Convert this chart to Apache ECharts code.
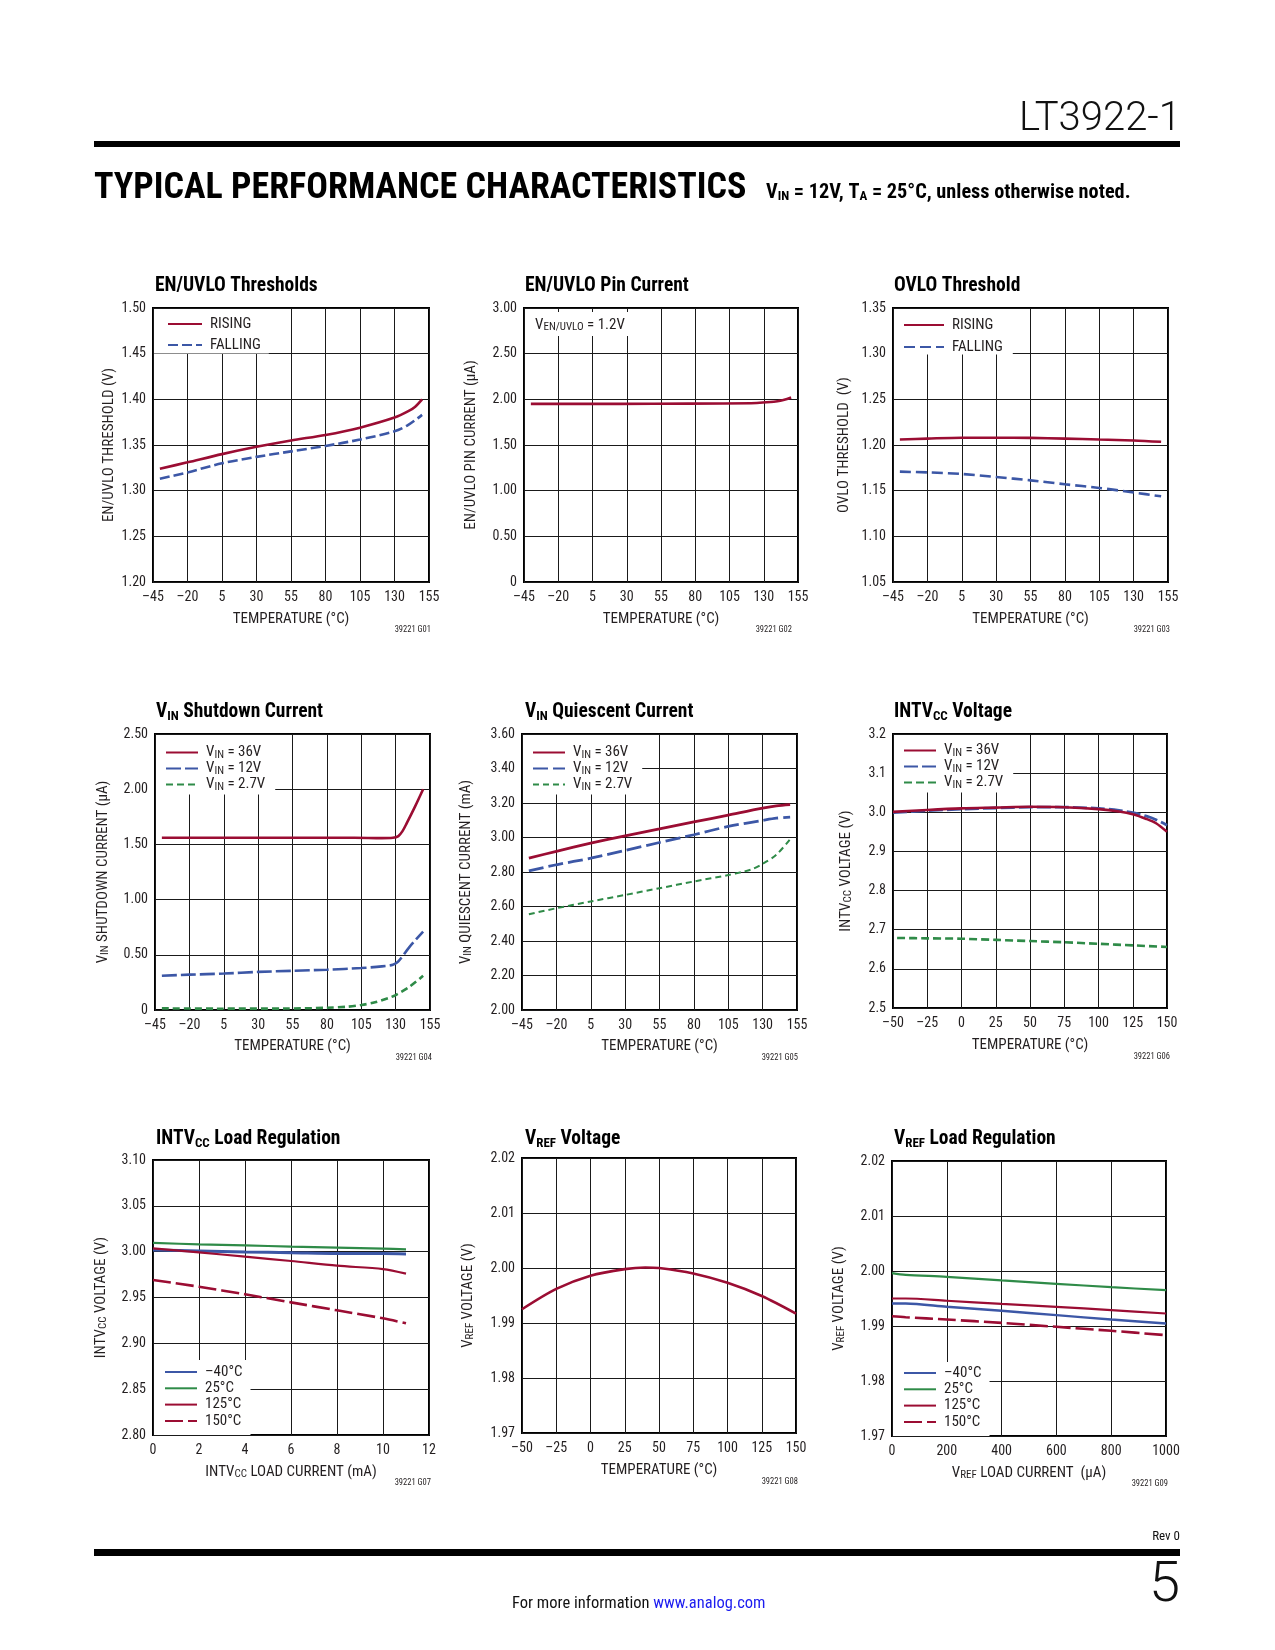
<!DOCTYPE html>
<html>
<head>
<meta charset="utf-8">
<script src="https://cdn.jsdelivr.net/npm/echarts@6/dist/echarts.min.js"></script>
<style>
html,body{margin:0;padding:0;background:#fff;}
#c{width:1275px;height:1650px;}
</style>
</head>
<body>
<div id="c"></div>
<script>
// ---------- DATA ----------
// G01 EN/UVLO Thresholds
const g1RisingT = [-40, -20, 5, 30, 55, 80, 105, 130, 140, 145, 150];
const g1RisingV = [1.324, 1.331, 1.340, 1.348, 1.355, 1.361, 1.369, 1.380, 1.387, 1.392, 1.400];
const g1FallingT = [-40, -20, 5, 30, 55, 80, 105, 130, 140, 150];
const g1FallingV = [1.313, 1.320, 1.330, 1.337, 1.343, 1.349, 1.356, 1.365, 1.372, 1.383];
// G02 EN/UVLO Pin Current
const g2T = [-40, 0, 50, 100, 125, 135, 140, 145, 150];
const g2I = [1.95, 1.95, 1.952, 1.955, 1.96, 1.97, 1.98, 1.995, 2.02];
// G03 OVLO Threshold
const g3RisingT = [-40, -20, 5, 30, 55, 80, 105, 130, 150];
const g3RisingV = [1.206, 1.207, 1.208, 1.208, 1.2078, 1.207, 1.206, 1.205, 1.2035];
const g3FallingT = [-40, -20, 5, 30, 55, 80, 105, 130, 150];
const g3FallingV = [1.1708, 1.170, 1.1683, 1.165, 1.1613, 1.157, 1.153, 1.148, 1.1438];
// G04 VIN Shutdown Current
const g4T36 = [-40, 0, 50, 100, 120, 128, 132, 135, 138, 144, 150];
const g4I36 = [1.56, 1.56, 1.56, 1.56, 1.557, 1.56, 1.575, 1.62, 1.69, 1.84, 2.0];
const g4T12 = [-40, -20, 5, 30, 55, 80, 105, 120, 128, 132, 140, 150];
const g4I12 = [0.31, 0.32, 0.33, 0.345, 0.355, 0.365, 0.38, 0.395, 0.41, 0.44, 0.57, 0.71];
const g4T27 = [-40, 0, 50, 80, 95, 105, 115, 125, 130, 140, 150];
const g4I27 = [0.015, 0.012, 0.013, 0.02, 0.03, 0.045, 0.07, 0.11, 0.135, 0.21, 0.31];
// G05 VIN Quiescent Current
const g5T36 = [-40, -20, 5, 30, 55, 80, 105, 130, 140, 150];
const g5I36 = [2.88, 2.92, 2.967, 3.01, 3.05, 3.09, 3.13, 3.17, 3.183, 3.19];
const g5T12 = [-40, -20, 5, 30, 55, 80, 105, 130, 140, 150];
const g5I12 = [2.807, 2.842, 2.88, 2.925, 2.971, 3.016, 3.064, 3.099, 3.112, 3.118];
const g5T27 = [-40, -20, 5, 30, 55, 80, 105, 115, 122, 130, 140, 150];
const g5I27 = [2.555, 2.59, 2.629, 2.667, 2.706, 2.745, 2.782, 2.80, 2.815, 2.847, 2.90, 2.99];
// G06 INTVCC Voltage
const g6T36 = [-50, -25, 0, 25, 50, 75, 100, 115, 125, 135, 142, 150];
const g6V36 = [3.001, 3.006, 3.01, 3.012, 3.014, 3.013, 3.008, 3.002, 2.995, 2.983, 2.972, 2.95];
const g6T12 = [-50, -25, 0, 25, 50, 75, 100, 115, 125, 135, 142, 150];
const g6V12 = [2.999, 3.004, 3.008, 3.011, 3.013, 3.013, 3.01, 3.005, 2.999, 2.99, 2.981, 2.967];
const g6T27 = [-47, -25, 0, 25, 50, 75, 100, 125, 150];
const g6V27 = [2.679, 2.678, 2.677, 2.674, 2.671, 2.668, 2.664, 2.66, 2.656];
// G07 INTVCC Load Regulation
const g7Load = [0, 2, 4, 6, 8, 10, 11];
const g7Vm40 = [3.0018, 3.0007, 2.9996, 2.9989, 2.998, 2.998, 2.9975];
const g7V25 = [3.0095, 3.008, 3.0069, 3.0055, 3.0044, 3.0033, 3.0025];
const g7V125 = [3.0036, 2.9993, 2.9945, 2.9898, 2.9847, 2.981, 2.976];
const g7V150 = [2.969, 2.9618, 2.9535, 2.9447, 2.936, 2.9273, 2.9218];
// G08 VREF Voltage
const g8T = [-50, -25, 0, 25, 40, 50, 75, 100, 125, 150];
const g8V = [1.9925, 1.9962, 1.9986, 1.9998, 2.0001, 2.0, 1.999, 1.9973, 1.9949, 1.9917];
// G09 VREF Load Regulation
const g9Load = [0, 50, 200, 400, 600, 800, 1000];
const g9Vm40 = [1.9941, 1.9941, 1.9935, 1.99276, 1.99197, 1.99118, 1.99045];
const g9V25 = [1.99961, 1.9993, 1.99894, 1.99828, 1.99767, 1.99706, 1.99652];
const g9V125 = [1.995, 1.995, 1.99459, 1.99403, 1.99349, 1.99288, 1.99227];
const g9V150 = [1.99178, 1.9916, 1.99118, 1.99057, 1.98985, 1.98913, 1.98833];

// axis ranges / ticks
const tempAxisA = {min: -45, max: 155, interval: 25};
const tempAxisB = {min: -50, max: 150, interval: 25};

// ---------- STYLE ----------
const FONT = "'Roboto Condensed','Liberation Sans Narrow','Liberation Sans',sans-serif";
const RED = '#9b0d33', BLUE = '#3c57a6', GREEN = '#2f8b48', TXT = '#231f20';
const SUB = {fontFamily: FONT, fontSize: 11, color: TXT, verticalAlign: 'bottom', padding: [5, 0, 0, 0]};
const SUBT = {fontFamily: FONT, fontSize: 13, fontWeight: 'bold', color: '#000', verticalAlign: 'bottom', padding: [8, 0, 0, 0]};

const grids = [
  {left: 153, top: 308, width: 276, height: 274},
  {left: 524, top: 308, width: 274, height: 274},
  {left: 893, top: 308, width: 275, height: 274},
  {left: 155, top: 734, width: 275, height: 276},
  {left: 522, top: 734, width: 275, height: 276},
  {left: 893, top: 734, width: 274, height: 274},
  {left: 153, top: 1160, width: 276, height: 275},
  {left: 522, top: 1158, width: 274, height: 275},
  {left: 892, top: 1161, width: 274, height: 275}
].map(g => Object.assign({show: true, borderColor: '#000', borderWidth: 2, backgroundColor: '#fff', containLabel: false}, g));

const dash = s => String(s).replace('-', '\u2013');

function xAx(gi, rng, name, gap) {
  return {
    type: 'value', gridIndex: gi, min: rng.min, max: rng.max, interval: rng.interval,
    name: name, nameLocation: 'middle', nameGap: gap || 29,
    nameTextStyle: {fontFamily: FONT, fontSize: 15, color: TXT, rich: {s: SUB}},
    axisLine: {show: false}, axisTick: {show: false},
    axisLabel: {margin: 8, fontFamily: FONT, fontSize: 14, color: TXT, formatter: v => dash(v)},
    splitLine: {show: true, lineStyle: {color: '#1a1a1a', width: 1}}
  };
}
function yAx(gi, min, max, interval, dec, name, gap) {
  return {
    type: 'value', gridIndex: gi, min: min, max: max, interval: interval,
    name: name, nameLocation: 'middle', nameGap: gap, nameRotate: 90,
    nameTextStyle: {fontFamily: FONT, fontSize: 15, color: TXT, rich: {s: SUB}},
    axisLine: {show: false}, axisTick: {show: false},
    axisLabel: {margin: 7, fontFamily: FONT, fontSize: 14, color: TXT,
      formatter: v => (Math.abs(v) < 1e-9 ? '0' : v.toFixed(dec))},
    splitLine: {show: true, lineStyle: {color: '#1a1a1a', width: 1}}
  };
}

const labels = {};
function line(id, label, gi, xs, ys, color, width, type) {
  labels[id] = label;
  return {
    name: id, type: 'line', xAxisIndex: gi, yAxisIndex: gi,
    data: xs.map((x, i) => [x, ys[i]]),
    symbol: 'none', smooth: 0.3,
    lineStyle: {color: color, width: width, type: type || 'solid', cap: 'butt'},
    itemStyle: {color: color}, z: 3, silent: true
  };
}

const series = [
  line('g1r', 'RISING', 0, g1RisingT, g1RisingV, RED, 2.6),
  line('g1f', 'FALLING', 0, g1FallingT, g1FallingV, BLUE, 2.6, [10, 4]),
  line('g2', 'I', 1, g2T, g2I, RED, 2.6),
  line('g3r', 'RISING', 2, g3RisingT, g3RisingV, RED, 2.6),
  line('g3f', 'FALLING', 2, g3FallingT, g3FallingV, BLUE, 2.6, [11, 5]),
  line('g4a', 'V{s|IN} = 36V', 3, g4T36, g4I36, RED, 2.6),
  line('g4b', 'V{s|IN} = 12V', 3, g4T12, g4I12, BLUE, 2.6, [15, 4]),
  line('g4c', 'V{s|IN} = 2.7V', 3, g4T27, g4I27, GREEN, 2.6, [7, 4]),
  line('g5a', 'V{s|IN} = 36V', 4, g5T36, g5I36, RED, 2.8),
  line('g5b', 'V{s|IN} = 12V', 4, g5T12, g5I12, BLUE, 2.8, [15, 5]),
  line('g5c', 'V{s|IN} = 2.7V', 4, g5T27, g5I27, GREEN, 2.0, [6, 4]),
  line('g6b', 'V{s|IN} = 12V', 5, g6T12, g6V12, BLUE, 2.8, [14, 4]),
  line('g6a', 'V{s|IN} = 36V', 5, g6T36, g6V36, RED, 2.6),
  line('g6c', 'V{s|IN} = 2.7V', 5, g6T27, g6V27, GREEN, 2.6, [8, 4]),
  line('g7a', '\u201340\u00b0C', 6, g7Load, g7Vm40, BLUE, 3),
  line('g7b', '25\u00b0C', 6, g7Load, g7V25, GREEN, 2.2),
  line('g7c', '125\u00b0C', 6, g7Load, g7V125, RED, 2.2),
  line('g7d', '150\u00b0C', 6, g7Load, g7V150, RED, 2.6, [18, 5]),
  line('g8', 'V', 7, g8T, g8V, RED, 2.6),
  line('g9a', '\u201340\u00b0C', 8, g9Load, g9Vm40, BLUE, 2.4),
  line('g9b', '25\u00b0C', 8, g9Load, g9V25, GREEN, 2.2),
  line('g9c', '125\u00b0C', 8, g9Load, g9V125, RED, 2.2),
  line('g9d', '150\u00b0C', 8, g9Load, g9V150, RED, 2.6, [18, 5])
];

function legend(names, left, top, pad, gap, iw) {
  return {
    data: names, orient: 'vertical', left: left, top: top, padding: pad, itemGap: gap,
    itemWidth: iw || 32, itemHeight: 12, backgroundColor: '#fff', selectedMode: false,
    itemStyle: {opacity: 0, borderWidth: 0},
    formatter: n => labels[n],
    textStyle: {fontFamily: FONT, fontSize: 15, color: TXT, padding: [0, 0, 0, 3], rich: {s: SUB}},
    z: 5
  };
}

const legends = [
  legend(['g1r', 'g1f'], 154, 309, [7.5, 8, 1, 13], 6, 34),
  legend(['g3r', 'g3f'], 894, 309, [8.5, 10, 0, 9], 7, 40),
  legend(['g4a', 'g4b', 'g4c'], 156, 735, [10, 10, 2, 9], 0.5),
  legend(['g5a', 'g5b', 'g5c'], 523, 735, [10, 10, 2, 9], 0.5),
  legend(['g6a', 'g6b', 'g6c'], 894, 735, [8, 10, 2, 9], 0.5),
  legend(['g7a', 'g7b', 'g7c', 'g7d'], 154, 1360, [4.5, 8, 6.5, 10], 1.3),
  legend(['g9a', 'g9b', 'g9c', 'g9d'], 893, 1362, [3.5, 8, 6.5, 10], 1.3)
];

function ttl(text, left, top) {
  return {text: text, left: left, top: top, padding: 0,
    textStyle: {fontFamily: FONT, fontWeight: 'bold', fontSize: 19.5, color: '#000', rich: {s: SUBT}}};
}
const titles = [
  ttl('EN/UVLO Thresholds', 155, 276),
  ttl('EN/UVLO Pin Current', 525, 276),
  ttl('OVLO Threshold', 894, 276),
  ttl('V{s|IN} Shutdown Current', 156, 702),
  ttl('V{s|IN} Quiescent Current', 525, 702),
  ttl('INTV{s|CC} Voltage', 894, 702),
  ttl('INTV{s|CC} Load Regulation', 156, 1129),
  ttl('V{s|REF} Voltage', 525, 1129),
  ttl('V{s|REF} Load Regulation', 894, 1129)
];

const xAxes = [
  xAx(0, tempAxisA, 'TEMPERATURE (\u00b0C)', 30),
  xAx(1, tempAxisA, 'TEMPERATURE (\u00b0C)', 30),
  xAx(2, tempAxisA, 'TEMPERATURE (\u00b0C)', 30),
  xAx(3, tempAxisA, 'TEMPERATURE (\u00b0C)', 29),
  xAx(4, tempAxisA, 'TEMPERATURE (\u00b0C)', 29),
  xAx(5, tempAxisB, 'TEMPERATURE (\u00b0C)', 30),
  xAx(6, {min: 0, max: 12, interval: 2}, 'INTV{s|CC} LOAD CURRENT (mA)', 29),
  xAx(7, tempAxisB, 'TEMPERATURE (\u00b0C)', 30),
  xAx(8, {min: 0, max: 1000, interval: 200}, 'V{s|REF} LOAD CURRENT  (\u00b5A)', 29)
];
const yAxes = [
  yAx(0, 1.20, 1.50, 0.05, 2, 'EN/UVLO THRESHOLD (V)', 36.5),
  yAx(1, 0, 3.0, 0.5, 2, 'EN/UVLO PIN CURRENT (\u00b5A)', 45.5),
  yAx(2, 1.05, 1.35, 0.05, 2, 'OVLO THRESHOLD  (V)', 41.5),
  yAx(3, 0, 2.5, 0.5, 2, 'V{s|IN} SHUTDOWN CURRENT (\u00b5A)', 44),
  yAx(4, 2.0, 3.6, 0.2, 2, 'V{s|IN} QUIESCENT CURRENT (mA)', 48),
  yAx(5, 2.5, 3.2, 0.1, 1, 'INTV{s|CC} VOLTAGE (V)', 39),
  yAx(6, 2.80, 3.10, 0.05, 2, 'INTV{s|CC} VOLTAGE (V)', 44),
  yAx(7, 1.97, 2.02, 0.01, 2, 'V{s|REF} VOLTAGE (V)', 46),
  yAx(8, 1.97, 2.02, 0.01, 2, 'V{s|REF} VOLTAGE (V)', 45)
];

function tag(t, x, y) {
  return {type: 'text', x: x, y: y, silent: true,
    style: {text: t, fontFamily: FONT, fontSize: 8.5, fill: TXT, align: 'right', verticalAlign: 'middle'}};
}
const graphics = [
  {type: 'text', x: 1181, y: 120, style: {text: 'LT3922-1', fontFamily: 'Roboto', fontWeight: 300, fontSize: 40, fill: '#111', align: 'right', verticalAlign: 'middle'}},
  {type: 'rect', shape: {x: 94, y: 141, width: 1086, height: 6}, style: {fill: '#000'}},
  {type: 'text', x: 94, y: 189, style: {text: 'TYPICAL PERFORMANCE CHARACTERISTICS', fontFamily: FONT, fontWeight: 'bold', fontSize: 36, fill: '#000', align: 'left', verticalAlign: 'middle'}},
  {type: 'text', x: 766, y: 193, style: {text: '{b|V}{s|IN}{b| = 12V, T}{s|A}{b| = 25\u00b0C, unless otherwise noted.}',
    align: 'left', verticalAlign: 'middle',
    rich: {b: {fontFamily: FONT, fontWeight: 'bold', fontSize: 20.3, fill: '#000'},
           s: {fontFamily: FONT, fontWeight: 'bold', fontSize: 13, fill: '#000', verticalAlign: 'bottom', padding: [7, 0, 0, 0]}}}},
  {type: 'text', x: 525, y: 324, z: 10, style: {text: 'V{s|EN/UVLO} = 1.2V', fontFamily: FONT, fontSize: 15, fill: TXT,
    align: 'left', verticalAlign: 'middle', backgroundColor: '#fff', padding: [5, 8, 3, 10],
    rich: {s: {fontFamily: FONT, fontSize: 11, fill: TXT, verticalAlign: 'bottom', padding: [5, 0, 0, 0]}}}},
  tag('39221 G01', 431, 630), tag('39221 G02', 792, 630), tag('39221 G03', 1170, 630),
  tag('39221 G04', 432, 1058), tag('39221 G05', 798, 1058), tag('39221 G06', 1170, 1057),
  tag('39221 G07', 431, 1483), tag('39221 G08', 798, 1482), tag('39221 G09', 1168, 1484),
  {type: 'text', x: 1180, y: 1537, style: {text: 'Rev 0', fontFamily: FONT, fontSize: 13, fill: '#111', align: 'right', verticalAlign: 'middle'}},
  {type: 'rect', shape: {x: 94, y: 1549, width: 1086, height: 7}, style: {fill: '#000'}},
  {type: 'text', x: 1180, y: 1587, style: {text: '5', fontFamily: 'Roboto', fontWeight: 300, fontSize: 56, fill: '#111', align: 'right', verticalAlign: 'middle'}},
  {type: 'text', x: 512, y: 1604, style: {text: '{a|For more information }{b|www.analog.com}', align: 'left', verticalAlign: 'middle',
    rich: {a: {fontFamily: FONT, fontSize: 16.5, fill: '#111'}, b: {fontFamily: FONT, fontSize: 16.5, fill: '#1c1cf0'}}}}
];

const chart = echarts.init(document.getElementById('c'), null, {renderer: 'canvas', width: 1275, height: 1650});
chart.setOption({
  animation: false,
  backgroundColor: '#fff',
  title: titles,
  grid: grids,
  xAxis: xAxes,
  yAxis: yAxes,
  legend: legends,
  series: series,
  graphic: graphics
});
</script>
</body>
</html>
